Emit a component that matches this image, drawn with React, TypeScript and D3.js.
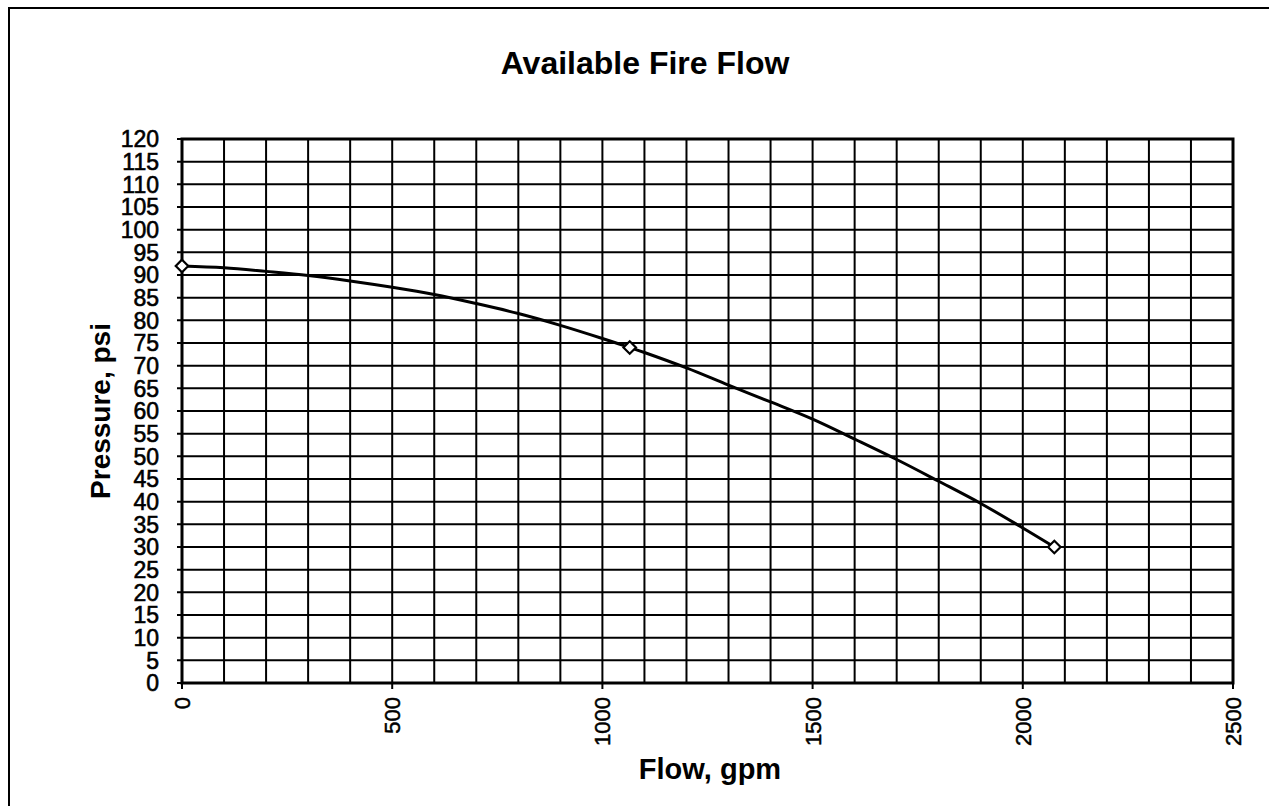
import React, { useEffect, useRef } from 'react';
import * as d3 from 'd3';

// Fire flow curve (gpm, psi)
const curveFlow = [0, 100, 200, 300, 400, 500, 600, 700, 800, 900, 1000, 1065, 1100, 1200, 1300, 1400, 1500, 1600, 1700, 1800, 1900, 2000, 2075];
const curvePressure = [92, 91.6, 90.8, 89.9, 88.7, 87.3, 85.7, 83.7, 81.5, 78.9, 76.0, 74, 72.9, 69.5, 65.7, 62.0, 58.2, 53.8, 49.3, 44.5, 39.6, 34.2, 30];

// Test points (markers)
const testFlow = [0, 1065, 2075];
const testPressure = [92, 74, 30];

const xTickLabels = [0, 500, 1000, 1500, 2000, 2500];
const yTickLabels = d3.range(0, 121, 5);

const FONT = '"Liberation Sans", Arial, Helvetica, sans-serif';

const App: React.FC = () => {
  const svgRef = useRef<SVGSVGElement>(null);

  useEffect(() => {
    if (!svgRef.current) return;
    const svg = d3.select(svgRef.current);
    svg.selectAll('*').remove();

    const plot = { left: 182, right: 1233, top: 139, bottom: 683 };

    const x = d3.scaleLinear().domain([0, 2500]).range([plot.left, plot.right]);
    const y = d3.scaleLinear().domain([0, 120]).range([plot.bottom, plot.top]);

    // Outer frame (only top and left visible in the scan)
    svg.append('path')
      .attr('d', `M9,806 L9,8 L1269,8`)
      .attr('fill', 'none')
      .attr('stroke', '#000')
      .attr('stroke-width', 2);

    // Title
    svg.append('text')
      .attr('x', 645)
      .attr('y', 74)
      .attr('text-anchor', 'middle')
      .attr('font-family', FONT)
      .attr('font-weight', 'bold')
      .attr('font-size', 32)
      .text('Available Fire Flow');

    // Grid
    const grid = svg.append('g').attr('stroke', '#000').attr('stroke-width', 2);
    d3.range(0, 2501, 100).forEach(v => {
      grid.append('line')
        .attr('x1', x(v)).attr('x2', x(v))
        .attr('y1', plot.top).attr('y2', plot.bottom);
    });
    yTickLabels.forEach(v => {
      grid.append('line')
        .attr('x1', plot.left - 5).attr('x2', plot.right)
        .attr('y1', y(v)).attr('y2', y(v));
    });
    xTickLabels.forEach(v => {
      grid.append('line')
        .attr('x1', x(v)).attr('x2', x(v))
        .attr('y1', plot.bottom).attr('y2', plot.bottom + 6);
    });

    // Plot border
    svg.append('rect')
      .attr('x', plot.left).attr('y', plot.top)
      .attr('width', plot.right - plot.left)
      .attr('height', plot.bottom - plot.top)
      .attr('fill', 'none')
      .attr('stroke', '#000')
      .attr('stroke-width', 3);

    // Y tick labels
    svg.append('g')
      .selectAll('text')
      .data(yTickLabels)
      .join('text')
      .attr('x', 159)
      .attr('y', d => y(d))
      .attr('dy', '0.36em')
      .attr('text-anchor', 'end')
      .attr('font-family', FONT)
      .attr('font-size', 23)
      .attr('stroke', '#000')
      .attr('stroke-width', 0.6)
      .text(d => d);

    // X tick labels (rotated)
    svg.append('g')
      .selectAll('text')
      .data(xTickLabels)
      .join('text')
      .attr('transform', d => `translate(${x(d)},${plot.bottom + 14}) rotate(-90)`)
      .attr('dy', '0.36em')
      .attr('text-anchor', 'end')
      .attr('font-family', FONT)
      .attr('font-size', 22)
      .attr('stroke', '#000')
      .attr('stroke-width', 0.5)
      .text(d => d);

    // Axis titles
    svg.append('text')
      .attr('x', 710)
      .attr('y', 779)
      .attr('text-anchor', 'middle')
      .attr('font-family', FONT)
      .attr('font-weight', 'bold')
      .attr('font-size', 29)
      .text('Flow, gpm');

    svg.append('text')
      .attr('transform', `translate(110,${(plot.top + plot.bottom) / 2}) rotate(-90)`)
      .attr('text-anchor', 'middle')
      .attr('font-family', FONT)
      .attr('font-weight', 'bold')
      .attr('font-size', 28)
      .text('Pressure, psi');

    // Curve
    const curveData = curveFlow.map((f, i) => [f, curvePressure[i]] as [number, number]);
    const line = d3.line<[number, number]>()
      .x(d => x(d[0]))
      .y(d => y(d[1]))
      .curve(d3.curveCatmullRom.alpha(0.5));

    svg.append('path')
      .datum(curveData)
      .attr('fill', 'none')
      .attr('stroke', '#000')
      .attr('stroke-width', 3)
      .attr('d', line);

    // Markers
    const diamond = d3.symbol().type(d3.symbolDiamond2).size(100);
    svg.append('g')
      .selectAll('path')
      .data(testFlow.map((f, i) => [f, testPressure[i]]))
      .join('path')
      .attr('transform', d => `translate(${x(d[0])},${y(d[1])})`)
      .attr('d', diamond)
      .attr('fill', '#fff')
      .attr('stroke', '#000')
      .attr('stroke-width', 2.2);
  }, []);

  return (
    <svg
      ref={svgRef}
      width={1269}
      height={806}
      style={{ position: 'absolute', left: 0, top: 0, background: '#fff' }}
    />
  );
};

export default App;
